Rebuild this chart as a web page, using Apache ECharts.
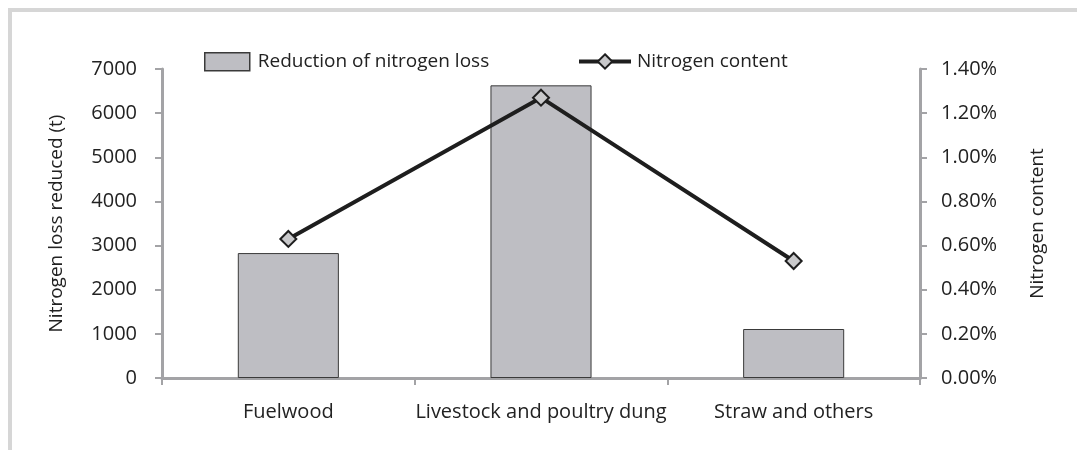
<!DOCTYPE html>
<html>
<head>
<meta charset="utf-8">
<script src="https://cdn.jsdelivr.net/npm/echarts@6/dist/echarts.min.js"></script>
<style>
html,body{margin:0;padding:0;background:#fff;}
#main{width:1077px;height:450px;}
</style>
</head>
<body>
<div id="main"></div>
<script>
var categories = ['Fuelwood', 'Livestock and poultry dung', 'Straw and others'];
var nitrogenLossReduced = [2830, 6630, 1110];
var nitrogenContent = [0.0063, 0.0127, 0.0053];
var leftTicks = [0, 1000, 2000, 3000, 4000, 5000, 6000, 7000];
var rightTicks = ['0.00%', '0.20%', '0.40%', '0.60%', '0.80%', '1.00%', '1.20%', '1.40%'];

window.onload = function () {
	var myChart = echarts.init(document.getElementById('main'));
	var font = 'Open Sans';
	var axisGray = '#a3a3a6';
	myChart.setOption({
		animation: false,
		textStyle: {fontFamily: font},
		graphic: [
			{type: 'rect', shape: {x: 9, y: 8, width: 1068, height: 4}, style: {fill: '#d6d6d6'}},
			{type: 'rect', shape: {x: 8, y: 8, width: 4, height: 442}, style: {fill: '#d6d6d6'}}
		],
		legend: [{
			data: ['Reduction of nitrogen loss'],
			left: 204, top: 52, padding: 0,
			icon: 'rect',
			itemWidth: 45, itemHeight: 18,
			itemStyle: {borderColor: '#3a3a3a', borderWidth: 1.5},
			textStyle: {fontSize: 19, color: '#222', fontFamily: font, padding: [0, 0, 0, 3]}
		}, {
			data: ['Nitrogen content'],
			left: 577, top: 52, padding: 0,
			itemWidth: 52, itemHeight: 18,
			lineStyle: {width: 4, color: '#1e1e1e'},
			textStyle: {fontSize: 19, color: '#222', fontFamily: font, padding: [0, 0, 0, 1]}
		}],
		grid: {left: 162, right: 157, top: 69, bottom: 72},
		xAxis: {
			type: 'category',
			data: categories,
			axisLine: {lineStyle: {color: axisGray, width: 3}},
			axisTick: {show: true, length: 7, lineStyle: {color: axisGray, width: 2}},
			axisLabel: {interval: 0, fontSize: 20, color: '#222', margin: 24, fontFamily: font}
		},
		yAxis: [{
			type: 'value',
			min: 0, max: 7000, interval: 1000,
			name: 'Nitrogen loss reduced (t)',
			nameLocation: 'middle', nameGap: 96,
			nameTextStyle: {fontSize: 19, color: '#222', fontFamily: font},
			axisLine: {show: true, lineStyle: {color: axisGray, width: 3}},
			axisTick: {show: true, length: 7, lineStyle: {color: axisGray, width: 2}},
			splitLine: {show: false},
			axisLabel: {fontSize: 20, color: '#222', margin: 25, fontFamily: font,
				formatter: function (v) { return String(leftTicks[Math.round(v / 1000)]); }}
		}, {
			type: 'value',
			min: 0, max: 0.014, interval: 0.002,
			name: 'Nitrogen content',
			nameLocation: 'middle', nameGap: 108, nameRotate: 90,
			nameTextStyle: {fontSize: 19, color: '#222', fontFamily: font},
			axisLine: {show: true, lineStyle: {color: axisGray, width: 3}},
			axisTick: {show: true, length: 7, lineStyle: {color: axisGray, width: 2}},
			splitLine: {show: false},
			axisLabel: {fontSize: 20, color: '#222', margin: 21, fontFamily: font,
				formatter: function (v) { return rightTicks[Math.round(v / 0.002)]; }}
		}],
		series: [{
			name: 'Reduction of nitrogen loss',
			type: 'bar',
			barWidth: '40%',
			itemStyle: {color: '#bebec3', borderColor: '#3a3a3a', borderWidth: 1},
			data: nitrogenLossReduced
		}, {
			name: 'Nitrogen content',
			type: 'line',
			yAxisIndex: 1,
			symbol: 'diamond',
			symbolSize: 16,
			lineStyle: {color: '#1e1e1e', width: 4},
			itemStyle: {color: '#c9c9cb', borderColor: '#1e1e1e', borderWidth: 2},
			data: nitrogenContent
		}]
	});
};
</script>
</body>
</html>
